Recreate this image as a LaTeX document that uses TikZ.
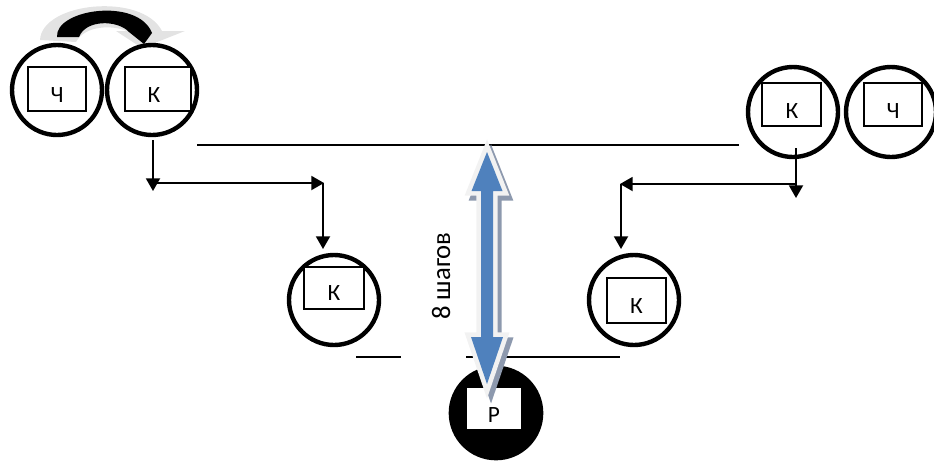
\documentclass[tikz,border=0pt]{standalone}
\usepackage{fontspec}
\setmainfont{Carlito}
\usetikzlibrary{arrows.meta}
\definecolor{aBlue}{HTML}{4F81BD}
\definecolor{aShadow}{HTML}{8D99AE}
\definecolor{aRim}{HTML}{F2F2F2}
\begin{document}
\begin{tikzpicture}[x=0.75pt,y=-0.75pt,
  ring/.style={circle,draw,line width=3.3pt,minimum size=67.5pt,inner sep=0pt},
  box/.style={draw,line width=1.1pt,fill=white,inner sep=0pt},
  lbl/.style={font=\fontsize{17.5}{19}\selectfont,inner sep=0pt},
  conn/.style={line width=1.4pt,-{Triangle[length=9.5pt,width=10.5pt]}},
  plainline/.style={line width=1.2pt}]
\useasboundingbox (0,0) rectangle (934,461);

% curved arrow on top (shadow + black band)
\fill[gray!22] (40,40) .. controls (42,2) and (142,-8) .. (162,31)
  -- (185,31) -- (142,48) -- (116,31) -- (127,31)
  .. controls (113,25) and (85,25) .. (76,42) -- cycle;
\fill[black] (57,37) .. controls (55,9) and (138,-3) .. (152,33)
  -- (144,44) -- (129,32) .. controls (118,20) and (86,19) .. (79,37) -- cycle;

% top-left pair
\node[ring] (c1) at (57,90) {};
\node[box,minimum width=43.5pt,minimum height=33pt] (b1) at (57,89) {};
\node[lbl] (t1) at (57,95) {Ч};
\node[ring] (c2) at (152,90) {};
\node[box,minimum width=49.5pt,minimum height=33pt] (b2) at (158,89) {};
\node[lbl] (t2) at (154,95) {К};

% top-right pair
\node[ring] (c3) at (793,112) {};
\node[box,minimum width=44pt,minimum height=32pt] (b3) at (791.5,104.5) {};
\node[lbl] (t3) at (792,111) {К};
\node[ring] (c4) at (891,112) {};
\node[box,minimum width=43.5pt,minimum height=32pt] (b4) at (893,104.5) {};
\node[lbl] (t4) at (893,111) {Ч};

% middle pair
\node[ring] (c5) at (334,300) {};
\node[box,minimum width=45pt,minimum height=31.5pt] (b5) at (334,288) {};
\node[lbl] (t5) at (334,293.5) {К};
\node[ring] (c6) at (634,300) {};
\node[box,minimum width=44pt,minimum height=34pt] (b6) at (636.5,300.5) {};
\node[lbl] (t6) at (636.5,306.5) {К};

% plain lines
\coordinate (l1a) at (197,145); \coordinate (l1b) at (739,145);
\draw[plainline] (l1a) -- (l1b);
\coordinate (l2a) at (356,357); \coordinate (l2b) at (401,357);
\draw[plainline] (l2a) -- (l2b);
\coordinate (l3a) at (466,357); \coordinate (l3b) at (620,357);
\draw[plainline] (l3a) -- (l3b);

% left connectors
\coordinate (s1) at (153,140);
\coordinate (e1) at (153,191);
\coordinate (j1) at (153,183);
\coordinate (k1) at (324,183);
\coordinate (m1) at (323,183);
\coordinate (e2) at (323,249);
\draw[conn] (s1) -- (e1);
\draw[conn] (j1) -- (k1);
\draw[conn] (m1) -- (e2);

% right connectors
\coordinate (s2) at (796,148);
\coordinate (e3) at (796,198);
\coordinate (j2) at (797,184);
\coordinate (k2) at (620,184);
\coordinate (m2) at (621,184);
\coordinate (e4) at (621,249);
\draw[conn] (s2) -- (e3);
\draw[conn] (j2) -- (k2);
\draw[conn] (m2) -- (e4);

% bottom black circle
\node[circle,fill=black,minimum size=71pt,inner sep=0pt] (c7) at (496,413) {};
\node[box,draw=black,minimum width=42pt,minimum height=32pt] (b7) at (494,408.5) {};
\node[lbl] (t7) at (494,415) {Р};

% big double arrow
\def\bigarrow{(487,152) -- (502.5,191) -- (493,191) -- (493,337) -- (503,337)
  -- (487,384) -- (471,337) -- (481,337) -- (481,191) -- (471.5,191) -- cycle}
\filldraw[aShadow,line width=7pt,line join=miter,shift={(4,5)}] \bigarrow;
\filldraw[fill=aBlue,draw=aRim,line width=7pt,line join=miter] \bigarrow;
\fill[aBlue] \bigarrow;

% label
\node[font=\fontsize{20}{22}\selectfont,rotate=90,inner sep=0pt] (lab) at (441,276) {8 шагов};
\end{tikzpicture}
\end{document}
